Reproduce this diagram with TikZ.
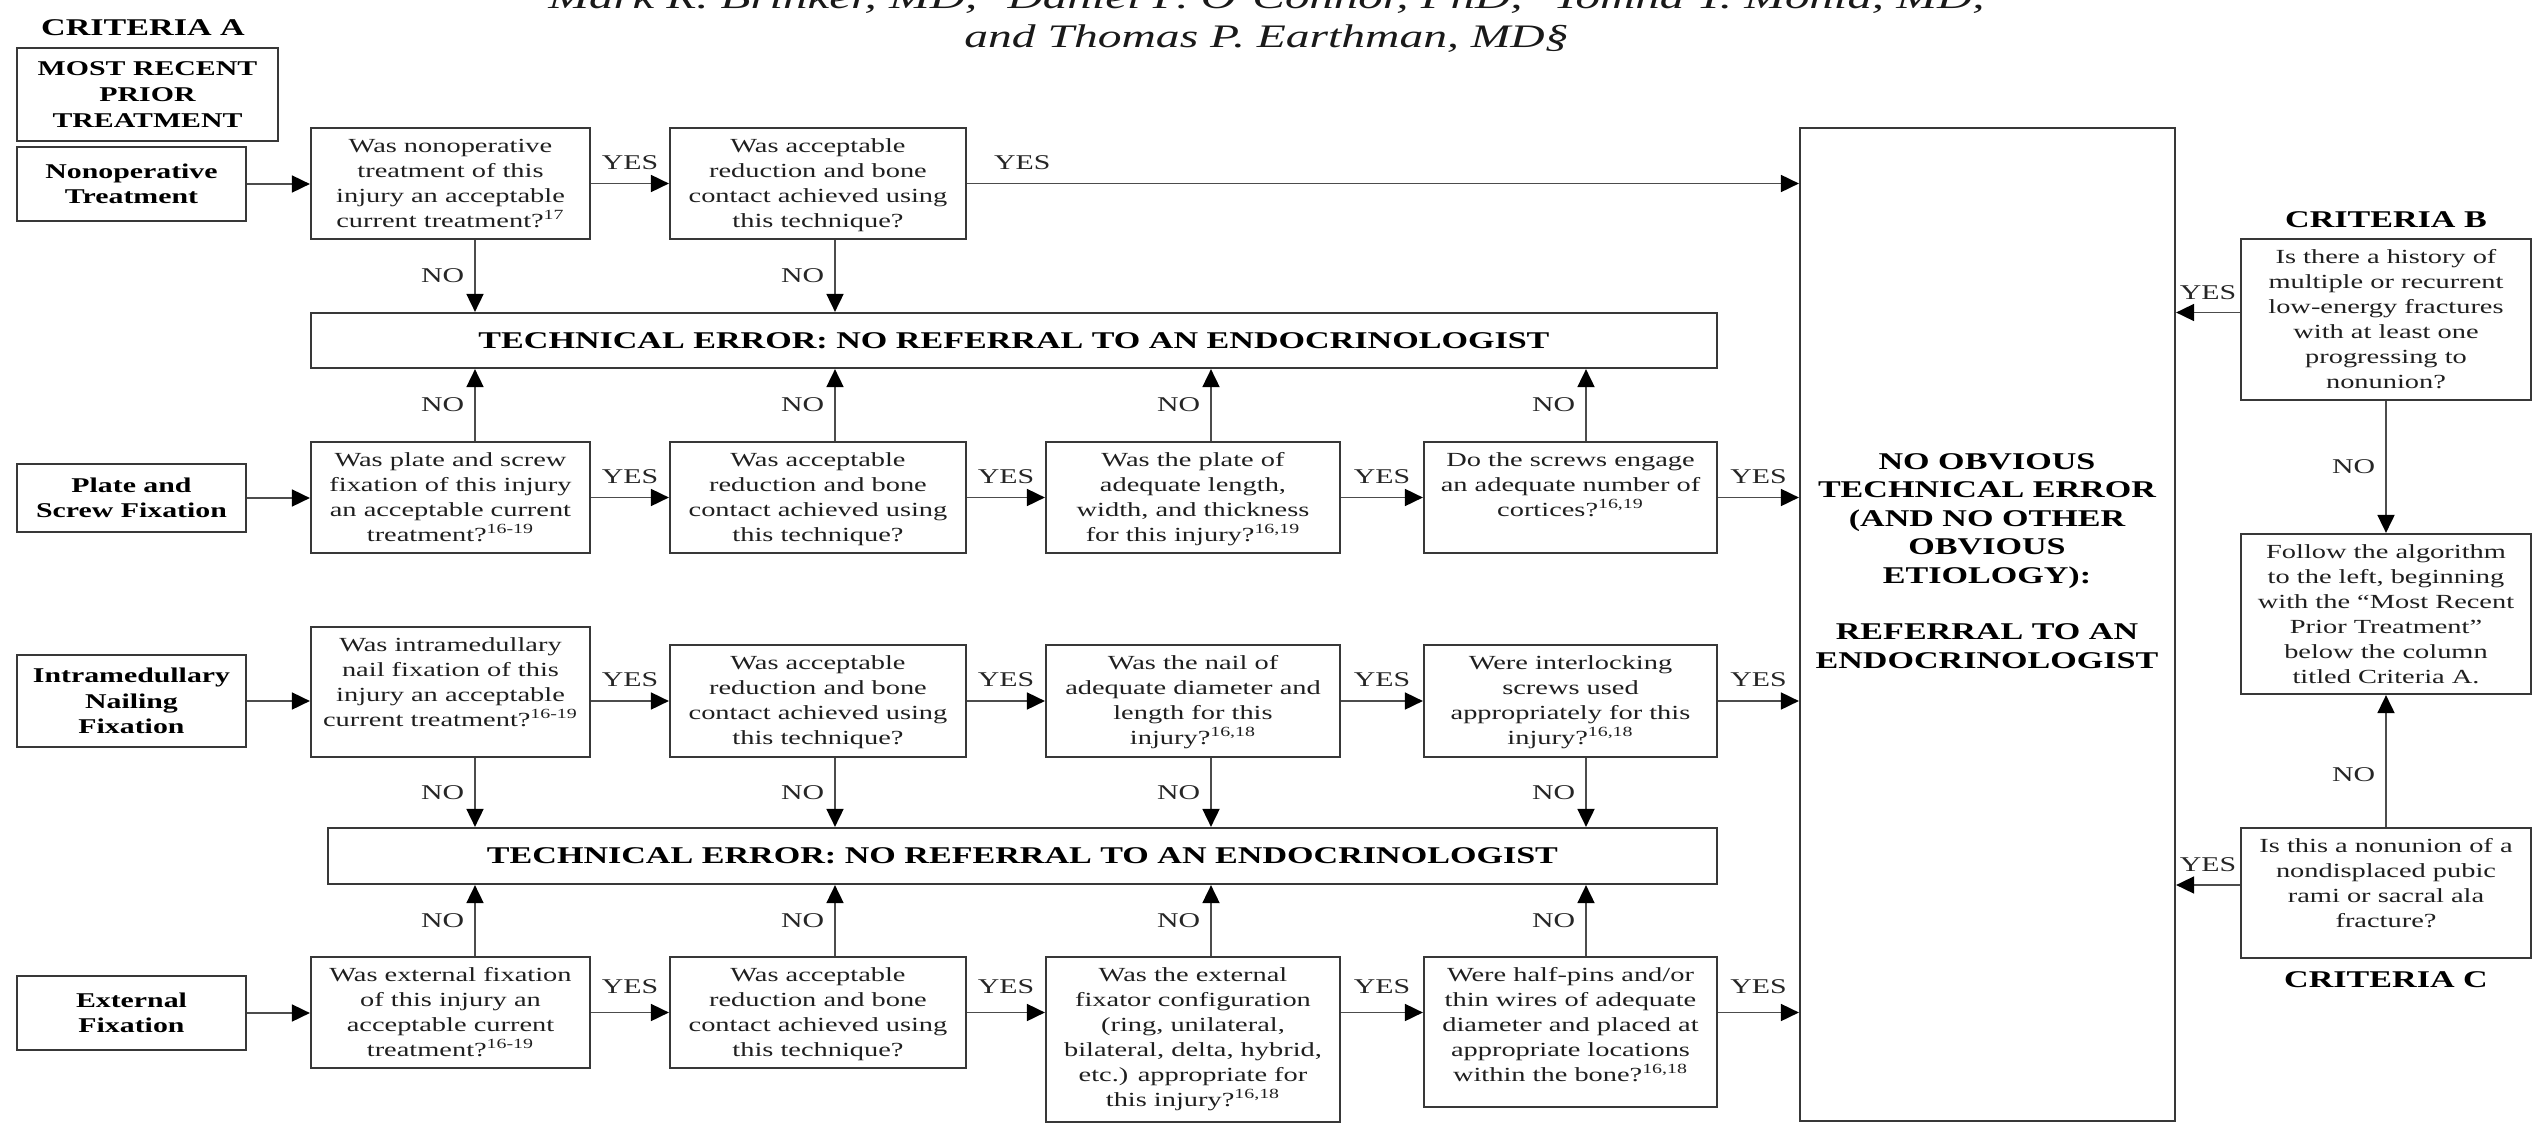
\documentclass[tikz,border=0pt]{standalone}
\usepackage{fontspec}
\setmainfont{Liberation Serif}[FakeStretch=1.42]
\newfontfamily\titlefont{Liberation Serif}[FakeStretch=1.45]
\newfontfamily\titlefontw{Liberation Serif}[FakeStretch=1.49]
\usetikzlibrary{arrows.meta}
% top-aligned question box: name, x1, y1, x2, y2, text (pixel coordinates)
\newcommand{\qnode}[6]{%
  \pgfmathsetmacro\bxw{(#4-#2)*0.5}%
  \pgfmathsetmacro\bxh{(#5-#3)*0.5}%
  \node[qbox, minimum width=\bxw pt, minimum height=\bxh pt] (#1) at ({(#2+#4)/2},{(#3+#5)/2})
    {\parbox[c][\bxh pt][t]{\dimexpr\bxw pt-3pt\relax}{\centering\rule{0pt}{12pt}#6}};%
}
% centred box: style, name, x1, y1, x2, y2, text
\newcommand{\bnode}[7]{%
  \pgfmathsetmacro\bxw{(#5-#3)*0.5}%
  \pgfmathsetmacro\bxh{(#6-#4)*0.5}%
  \node[#1, minimum width=\bxw pt, minimum height=\bxh pt] (#2) at ({(#3+#5)/2},{(#4+#6)/2}) {#7};%
}
\begin{document}
\begin{tikzpicture}[x=0.5pt,y=-0.5pt,
  qbox/.style={draw=black!78, line width=1.1pt, inner sep=0pt, text=black!88,
     font=\fontsize{10}{12.5}\selectfont},
  lbox/.style={draw=black!78, line width=1.1pt, inner sep=0pt, align=center,
     font=\fontsize{10.5}{12.8}\selectfont\bfseries},
  tebox/.style={draw=black!78, line width=1.1pt, inner sep=0pt,
     font=\fontsize{12}{14}\selectfont\bfseries},
  bigbox/.style={draw=black!78, line width=1.1pt, inner sep=0pt},
  bigtext/.style={align=center, inner sep=0pt, font=\fontsize{12}{14.2}\selectfont\bfseries},
  crit/.style={inner sep=0pt, font=\fontsize{12}{14}\selectfont\bfseries},
  arr/.style={draw=black!70, line width=0.9pt, -{Triangle[length=9pt,width=8.5pt,color=black]}},
  yes/.style={font=\fontsize{10.5}{12}\selectfont, text=black!85, inner sep=1pt},
  no/.style={font=\fontsize{10.5}{12}\selectfont, text=black!85, inner sep=1pt, left=4pt},
]
\clip (0,0) rectangle (2534,1124);
\fill[white] (0,0) rectangle (2534,1124);

% authors (cut at top)
\node[anchor=base west, inner sep=0pt, font=\titlefontw\fontsize{16.4}{18}\selectfont\itshape, text=black!90] (auth1) at (548,9)
  {Mark R. Brinker, MD,\textsuperscript{*} Daniel P. O’Connor, PhD,\textsuperscript{†} Yomna T. Monla, MD,\textsuperscript{‡}};
\node[anchor=base west, inner sep=0pt, font=\titlefont\fontsize{16.4}{18}\selectfont\itshape, text=black!90] (auth2) at (964,47)
  {and Thomas P. Earthman, MD§};

% criteria labels
\node[crit] (critA) at (143,28) {CRITERIA A};
\node[crit] (critB) at (2386,220) {CRITERIA B};
\node[crit] (critC) at (2386,980) {CRITERIA C};

% left column
\bnode{lbox}{mrpt}{17}{48}{278}{141}{MOST RECENT\\PRIOR\\TREATMENT}
\bnode{lbox}{nonop}{17}{147}{246}{221}{Nonoperative\\Treatment}
\bnode{lbox}{plate}{17}{464}{246}{532}{Plate and\\Screw Fixation}
\bnode{lbox}{imn}{17}{655}{246}{747}{Intramedullary\\Nailing\\Fixation}
\bnode{lbox}{exf}{17}{976}{246}{1050}{External\\Fixation}

% technical error boxes
\bnode{tebox}{te1}{311}{313}{1717}{368}{TECHNICAL ERROR: NO REFERRAL TO AN ENDOCRINOLOGIST}
\bnode{tebox}{te2}{328}{828}{1717}{884}{TECHNICAL ERROR: NO REFERRAL TO AN ENDOCRINOLOGIST}

% big result box
\bnode{bigbox}{big}{1800}{128}{2175}{1121}{}
\node[bigtext] (bigtxt) at (1987,561) {NO OBVIOUS\\TECHNICAL ERROR\\(AND NO OTHER\\OBVIOUS\\ETIOLOGY):\\[14.2pt]REFERRAL TO AN\\ENDOCRINOLOGIST};

% row 1
\qnode{n1}{311}{128}{590}{239}{Was nonoperative\\treatment of this\\injury an acceptable\\current treatment?\textsuperscript{17}}
\qnode{n2}{670}{128}{966}{239}{Was acceptable\\reduction and bone\\contact achieved using\\this technique?}
% row 2
\qnode{p1}{311}{442}{590}{553}{Was plate and screw\\fixation of this injury\\an acceptable current\\treatment?\textsuperscript{16-19}}
\qnode{p2}{670}{442}{966}{553}{Was acceptable\\reduction and bone\\contact achieved using\\this technique?}
\qnode{p3}{1046}{442}{1340}{553}{Was the plate of\\adequate length,\\width, and thickness\\for this injury?\textsuperscript{16,19}}
\qnode{p4}{1424}{442}{1717}{553}{Do the screws engage\\an adequate number of\\cortices?\textsuperscript{16,19}}
% row 3
\qnode{i1}{311}{627}{590}{757}{Was intramedullary\\nail fixation of this\\injury an acceptable\\current treatment?\textsuperscript{16-19}}
\qnode{i2}{670}{645}{966}{757}{Was acceptable\\reduction and bone\\contact achieved using\\this technique?}
\qnode{i3}{1046}{645}{1340}{757}{Was the nail of\\adequate diameter and\\length for this\\injury?\textsuperscript{16,18}}
\qnode{i4}{1424}{645}{1717}{757}{Were interlocking\\screws used\\appropriately for this\\injury?\textsuperscript{16,18}}
% row 4
\qnode{e1}{311}{957}{590}{1068}{Was external fixation\\of this injury an\\acceptable current\\treatment?\textsuperscript{16-19}}
\qnode{e2}{670}{957}{966}{1068}{Was acceptable\\reduction and bone\\contact achieved using\\this technique?}
\qnode{e3}{1046}{957}{1340}{1122}{Was the external\\fixator configuration\\(ring, unilateral,\\bilateral, delta, hybrid,\\etc.) appropriate for\\this injury?\textsuperscript{16,18}}
\qnode{e4}{1424}{957}{1717}{1107}{Were half-pins and/or\\thin wires of adequate\\diameter and placed at\\appropriate locations\\within the bone?\textsuperscript{16,18}}
% right column
\qnode{cb}{2241}{239}{2531}{400}{Is there a history of\\multiple or recurrent\\low-energy fractures\\with at least one\\progressing to\\nonunion?}
\qnode{fol}{2241}{534}{2531}{694}{Follow the algorithm\\to the left, beginning\\with the “Most Recent\\Prior Treatment”\\below the column\\titled Criteria A.}
\qnode{cc}{2241}{828}{2531}{958}{Is this a nonunion of a\\nondisplaced pubic\\rami or sacral ala\\fracture?}

% arrow columns
\coordinate (c1) at (475,0);
\coordinate (c2) at (835,0);
\coordinate (c3) at (1211,0);
\coordinate (c4) at (1586,0);

% row 1 connectors
\draw[arr] (nonop.east) -- (nonop.east -| n1.west);
\draw[arr] (n1.east) -- node[yes, above=5.5pt] {YES} (n1.east -| n2.west);
\draw[arr] (n2.east) -- node[yes, pos=0, anchor=south west, xshift=12pt, yshift=5.5pt] {YES} (n2.east -| big.west);
\draw[arr] (n1.south -| c1) -- node[no] {NO} (te1.north -| c1);
\draw[arr] (n2.south -| c2) -- node[no] {NO} (te1.north -| c2);

% row 2 connectors
\draw[arr] (plate.east) -- (plate.east -| p1.west);
\draw[arr] (p1.east) -- node[yes, above=5.5pt] {YES} (p1.east -| p2.west);
\draw[arr] (p2.east) -- node[yes, above=5.5pt] {YES} (p2.east -| p3.west);
\draw[arr] (p3.east) -- node[yes, above=5.5pt] {YES} (p3.east -| p4.west);
\draw[arr] (p4.east) -- node[yes, above=5.5pt] {YES} (p4.east -| big.west);
\draw[arr] (p1.north -| c1) -- node[no] {NO} (te1.south -| c1);
\draw[arr] (p2.north -| c2) -- node[no] {NO} (te1.south -| c2);
\draw[arr] (p3.north -| c3) -- node[no] {NO} (te1.south -| c3);
\draw[arr] (p4.north -| c4) -- node[no] {NO} (te1.south -| c4);

% row 3 connectors
\draw[arr] (imn.east) -- (imn.east -| i1.west);
\draw[arr] (i2.west -| i1.east) -- node[yes, above=5.5pt] {YES} (i2.west);
\draw[arr] (i2.east) -- node[yes, above=5.5pt] {YES} (i2.east -| i3.west);
\draw[arr] (i3.east) -- node[yes, above=5.5pt] {YES} (i3.east -| i4.west);
\draw[arr] (i4.east) -- node[yes, above=5.5pt] {YES} (i4.east -| big.west);
\draw[arr] (i1.south -| c1) -- node[no] {NO} (te2.north -| c1);
\draw[arr] (i2.south -| c2) -- node[no] {NO} (te2.north -| c2);
\draw[arr] (i3.south -| c3) -- node[no] {NO} (te2.north -| c3);
\draw[arr] (i4.south -| c4) -- node[no] {NO} (te2.north -| c4);

% row 4 connectors
\draw[arr] (exf.east) -- (exf.east -| e1.west);
\draw[arr] (e1.east) -- node[yes, above=8pt] {YES} (e1.east -| e2.west);
\draw[arr] (e2.east) -- node[yes, above=8pt] {YES} (e2.east -| e3.west);
\draw[arr] (e2.east -| e3.east) -- node[yes, above=8pt] {YES} (e2.east -| e4.west);
\draw[arr] (e2.east -| e4.east) -- node[yes, above=8pt] {YES} (e2.east -| big.west);
\draw[arr] (e1.north -| c1) -- node[no] {NO} (te2.south -| c1);
\draw[arr] (e2.north -| c2) -- node[no] {NO} (te2.south -| c2);
\draw[arr] (e3.north -| c3) -- node[no] {NO} (te2.south -| c3);
\draw[arr] (e4.north -| c4) -- node[no] {NO} (te2.south -| c4);

% right column connectors
\draw[arr] ([yshift=3.5pt]cb.west) -- node[yes, above=5pt] {YES} ([yshift=3.5pt]cb.west -| big.east);
\draw[arr] (cb.south) -- node[no] {NO} (fol.north);
\draw[arr] (cc.north) -- node[no, pos=0.4] {NO} (fol.south);
\draw[arr] ([yshift=4pt]cc.west) -- node[yes, above=5pt] {YES} ([yshift=4pt]cc.west -| big.east);
\end{tikzpicture}
\end{document}
